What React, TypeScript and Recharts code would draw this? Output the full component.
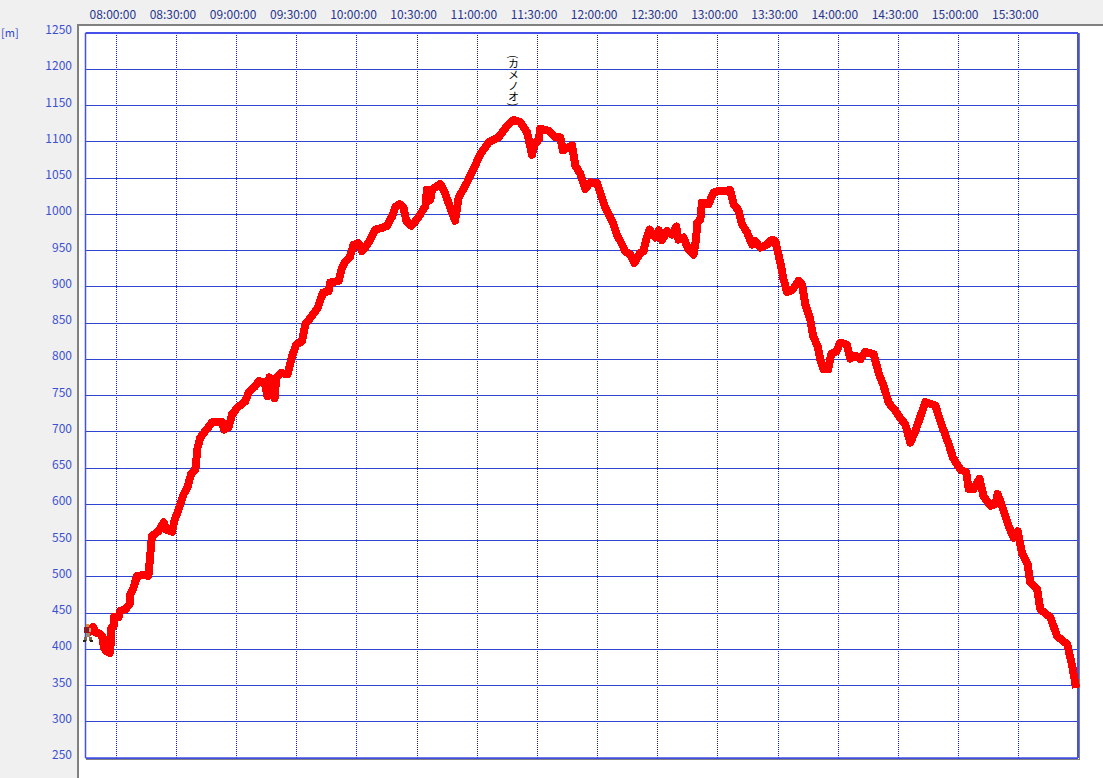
import {
  CartesianGrid,
  Line,
  LineChart,
  ReferenceDot,
  ReferenceLine,
  XAxis,
  YAxis,
} from "recharts";

// minutes since midnight
const minutes = [
  466.7, 468.4, 469.5, 471.5, 473.4, 473.7, 475, 476.7, 477.4, 477.5, 478.7, 479, 481.1, 482, 484.5, 486.6,
  487, 488.6, 490.3, 495.3, 496, 497.3, 497.8, 501.1, 503.6, 504.9, 507.8, 509.1, 511.1, 513.6, 515.6, 517.2,
  519.4, 520.5, 521.9, 524.4, 527.7, 532.8, 533.8, 536, 537.7, 538.8, 540.2, 544.3, 546, 549.3, 551, 553.9,
  555.4, 556.4, 558.9, 559.8, 562.1, 565.4, 567.6, 569.7, 572.6, 574.2, 577.6, 580.4, 583.1, 585.9, 586.7, 590.8,
  592.5, 594.2, 596.3, 598.3, 600.8, 602.5, 604.6, 606.6, 609.1, 612.5, 615, 617.5, 619.1, 621.3, 623.2, 624.6,
  627.1, 629.9, 634.1, 634.9, 636.6, 637.4, 641.5, 643.5, 646.5, 648.9, 650.7, 654.9, 658.1, 661.1, 665.6, 670.6,
  674.8, 678.1, 681.4, 684.8, 687.3, 688.4, 690.6, 691.4, 695.5, 698.9, 701.4, 702.7, 707.2, 708.9, 711.3, 713.8,
  716.3, 719.7, 721.3, 723.8, 727.2, 729.6, 731.3, 733.8, 736.3, 738.3, 741.3, 742.9, 743.8, 745.8, 748.7, 750.4,
  752.1, 754.6, 757, 759.2, 760.3, 762.8, 765.3, 767.8, 769.2, 769.5, 771.2, 772, 775.3, 777.8, 780.3, 786.1,
  787.8, 790.3, 792, 794.5, 797, 798.6, 801.1, 804.4, 806.9, 808.6, 811.1, 812.7, 814.4, 816.9, 820.2, 821.9,
  823.5, 826, 827.4, 829.7, 831, 832.7, 834.9, 836.4, 839, 841, 844.3, 846, 848.5, 851, 853.4, 857.6,
  860.1, 862.6, 865.1, 868.4, 870.9, 873.4, 875.9, 878.4, 880.9, 883.4, 888.4, 891.7, 895, 897.2, 900.8, 903.8,
  905, 907.4, 910.4, 912.4, 915.8, 918.3, 919.4, 921.6, 924.9, 927.4, 929.4, 931.6, 934.4, 935.7, 939.1, 940.7,
  945.7, 949.1, 954.1, 956.6, 958.2,
];

const altitudes = [
  425, 431, 423, 422, 416, 403, 397, 395, 411, 429, 432, 445, 444, 453, 455, 462,
  476, 485, 501, 503, 501, 542, 556, 563, 575, 565, 562, 579, 593, 614, 624, 641,
  648, 678, 692, 701, 713, 713, 703, 706, 724, 727, 733, 742, 754, 763, 770, 768,
  749, 775, 746, 775, 781, 779, 804, 820, 825, 848, 860, 871, 892, 894, 906, 908,
  926, 935, 940, 958, 960, 949, 956, 965, 979, 981, 984, 997, 1010, 1014, 1009, 991,
  984, 993, 1011, 1034, 1020, 1034, 1042, 1032, 1009, 991, 1023, 1044, 1062, 1081, 1099, 1106,
  1122, 1130, 1127, 1113, 1082, 1096, 1103, 1118, 1115, 1106, 1106, 1088, 1095, 1067, 1056, 1035,
  1044, 1043, 1030, 1009, 991, 972, 963, 949, 944, 933, 947, 949, 961, 979, 968, 978,
  964, 977, 972, 983, 965, 968, 951, 944, 968, 988, 993, 1016, 1014, 1030, 1032, 1033,
  1014, 1005, 986, 975, 958, 963, 954, 958, 965, 963, 933, 910, 893, 895, 908, 903,
  876, 855, 832, 818, 800, 786, 786, 807, 811, 823, 820, 801, 805, 800, 810, 807,
  781, 763, 740, 729, 719, 710, 685, 701, 721, 741, 736, 708, 683, 664, 648, 644,
  621, 621, 635, 611, 598, 600, 614, 598, 570, 554, 563, 533, 517, 492, 483, 455,
  444, 418, 407, 377, 352,
];

const timeTicks = [480, 510, 540, 570, 600, 630, 660, 690, 720, 750, 780, 810, 840, 870, 900, 930];
const timeLabels = [
  "08:00:00", "08:30:00", "09:00:00", "09:30:00", "10:00:00", "10:30:00", "11:00:00", "11:30:00",
  "12:00:00", "12:30:00", "13:00:00", "13:30:00", "14:00:00", "14:30:00", "15:00:00", "15:30:00",
];
const altitudeTicks = [
  250, 300, 350, 400, 450, 500, 550, 600, 650, 700, 750, 800, 850, 900, 950, 1000, 1050, 1100, 1150, 1200, 1250,
];

const timeDomain = [464.64, 959.5];
const altitudeDomain = [250, 1250];
const peakName = "(カメノオ)";
const peakMinute = 678.1;
const peakAltitude = 1130;

const chartData = minutes.map((minute, i) => ({ minute, altitude: altitudes[i] }));

const FONT = '"Noto Sans CJK JP", sans-serif';
const BLUE = "#2f45d0";
const FRAME = "#4450e8";

const TimeTick = ({ x, payload }: any) => (
  <text x={x - 3.5} y={19} fill="#27358c" fontFamily={FONT} fontSize={12} textAnchor="middle">
    {timeLabels[timeTicks.indexOf(payload.value)]}
  </text>
);

const AltitudeTick = ({ y, payload }: any) => (
  <text x={72} y={y + 1} fill="#3c50d0" fontFamily={FONT} fontSize={12} textAnchor="end">
    {payload.value}
  </text>
);

const PeakLabel = ({ cx, cy }: any) => (
  <text
    x={cx}
    y={cy - 65}
    fill="#000"
    fontFamily={FONT}
    fontSize={11}
    style={{ writingMode: "vertical-rl" }}
  >
    {peakName}
  </text>
);

// little walker sprite at the start of the track
const Hiker = ({ cx, cy }: any) => (
  <g transform={`translate(${cx - 7},${cy - 7})`} shapeRendering="crispEdges">
    <rect x={3} y={0} width={3} height={3} fill="#e08a30" />
    <rect x={1} y={3} width={5} height={6} fill="#8a1c2c" />
    <rect x={6} y={4} width={2} height={4} fill="#c9a080" />
    <rect x={3} y={9} width={4} height={4} fill="#a08868" />
    <rect x={1} y={13} width={3} height={4} fill="#7a6650" />
    <rect x={6} y={13} width={3} height={4} fill="#7a6650" />
    <rect x={0} y={16} width={3} height={2} fill="#2a2420" />
    <rect x={7} y={16} width={3} height={2} fill="#2a2420" />
  </g>
);

export default function App() {
  return (
    <div
      style={{
        position: "relative",
        width: 1103,
        height: 778,
        background: "#f0f0f0",
        overflow: "hidden",
      }}
    >
      <style>{"html,body{margin:0;padding:0}"}</style>
      <div
        style={{
          position: "absolute",
          left: 77,
          top: 24,
          width: 1026,
          height: 754,
          background: "#fff",
          borderLeft: "2px solid #808080",
          borderTop: "2px solid #808080",
          boxSizing: "border-box",
        }}
      />
      <div style={{ position: "absolute", left: 1079, top: 33, width: 1, height: 727, background: "#808080" }} />
      <div style={{ position: "absolute", left: 86, top: 759, width: 994, height: 1, background: "#808080" }} />
      <div
        style={{
          position: "absolute",
          left: 1,
          top: 24,
          color: BLUE,
          fontFamily: FONT,
          fontSize: 11,
        }}
      >
        [m]
      </div>
      <div style={{ position: "absolute", left: 0, top: 0 }}>
        <LineChart
          width={1103}
          height={778}
          data={chartData}
          margin={{ top: 0, right: 25, bottom: 20, left: 0 }}
        >
          <CartesianGrid horizontal={false} stroke="#1020b0" strokeDasharray="1 1" shapeRendering="crispEdges" />
          <CartesianGrid vertical={false} stroke={BLUE} shapeRendering="crispEdges" />
          <XAxis
            dataKey="minute"
            type="number"
            orientation="top"
            height={33}
            domain={timeDomain}
            ticks={timeTicks}
            interval={0}
            tick={<TimeTick />}
            tickLine={false}
            axisLine={{ stroke: FRAME, strokeWidth: 2 }}
          />
          <YAxis
            width={85.5}
            domain={altitudeDomain}
            ticks={altitudeTicks}
            interval={0}
            tick={<AltitudeTick />}
            tickLine={false}
            axisLine={{ stroke: FRAME, strokeWidth: 1.5 }}
          />
          <ReferenceLine x={timeDomain[1]} stroke={FRAME} strokeWidth={2} />
          <ReferenceLine y={altitudeDomain[0]} stroke={FRAME} strokeWidth={1.5} />
          <Line
            dataKey="altitude"
            type="linear"
            stroke="#ff0000"
            strokeWidth={8}
            strokeLinejoin="round"
            strokeLinecap="square"
            shapeRendering="crispEdges"
            dot={false}
            isAnimationActive={false}
          />
          <Line
            data={chartData.slice(0, 1)}
            dataKey="altitude"
            stroke="none"
            dot={(props: any) => <Hiker key="hiker" cx={props.cx} cy={props.cy} />}
            isAnimationActive={false}
          />
          <ReferenceDot x={peakMinute} y={peakAltitude} r={0} shape={<PeakLabel />} ifOverflow="visible" />
        </LineChart>
      </div>
    </div>
  );
}
